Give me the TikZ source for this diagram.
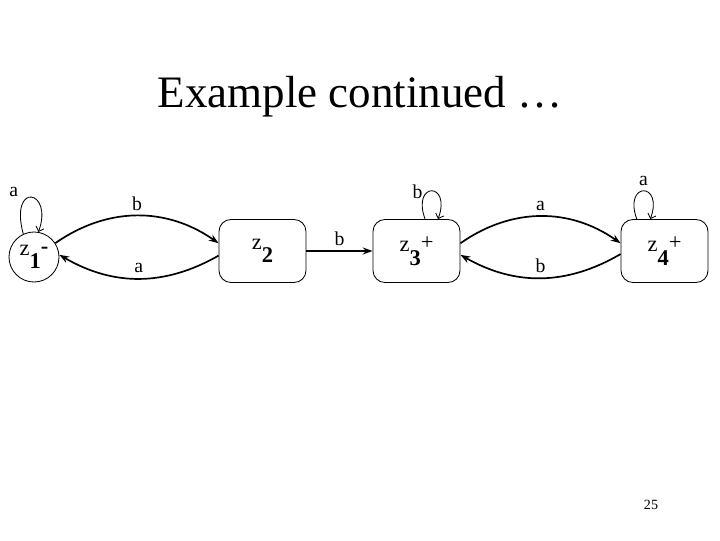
\documentclass[tikz,border=0pt]{standalone}
\usepackage{fontspec}
\setmainfont{Liberation Serif}
\usetikzlibrary{arrows.meta, positioning}

\newcommand{\zlabel}[2]{z\raisebox{-0.6em}{\textbf{#1}}\raisebox{0.1em}{#2}}

\begin{document}
\begin{tikzpicture}[x=0.025cm, y=0.025cm,
    statebox/.style={draw, semithick, rounded corners=0.3cm, minimum width=2.175cm,
      minimum height=1.575cm, inner sep=0pt, font=\fontsize{16}{18}\selectfont},
    initstate/.style={draw, semithick, circle, minimum size=1.25cm, inner sep=0pt,
      font=\fontsize{16}{18}\selectfont},
    trans/.style={very thick, -{Stealth[length=7pt, width=5pt]}},
    selfloop/.style={semithick, -{Straight Barb[length=3pt]}},
    lbl/.style={font=\fontsize{14}{16}\selectfont}]
  \useasboundingbox (0,0) rectangle (720,540);
  % Title
  \node[font=\fontsize{32}{36}\selectfont] (title) at (360,443) {Example continued \dots};
  % States
  \node[initstate] (z1) at (34,283) {\zlabel{1}{\textbf{-}}};
  \node[statebox] (z2) at (262.5,289) {\zlabel{2}{}};
  \node[statebox] (z3) at (416.5,289) {\zlabel{3}{+}};
  \node[statebox] (z4) at (664.5,289) {\raisebox{0.25em}{\zlabel{4}{+}}};
  % Transitions
  \draw[trans] (z1.33) to[bend left=35] node[lbl, above] {b} (z2.170);
  \draw[trans] (z2.186) to[bend left=30] node[lbl, above] {a} (z1.5);
  \draw[trans] (z2.east) -- node[lbl, above] {b} (z3.west);
  \draw[trans] (z3.10) to[bend left=35] node[lbl, above] {a} (z4.170);
  \draw[trans] (z4.184) to[bend left=30] node[lbl, above] {b} (z3.-5);
  % Self loops
  \draw[selfloop] (z1.115) .. controls +(105:55) and +(70:45) .. node[lbl, above left, pos=.3] {a} (z1.80);
  \draw[selfloop] (z3.75) .. controls +(110:40) and +(70:40) .. node[lbl, left, pos=.4] {b} (z3.56);
  \draw[selfloop] (z4.131) .. controls +(110:40) and +(70:40) .. node[lbl, above] {a} (z4.114);
  % Page number
  \node[font=\fontsize{10}{12}\selectfont] (page) at (651,35) {25};
\end{tikzpicture}
\end{document}
